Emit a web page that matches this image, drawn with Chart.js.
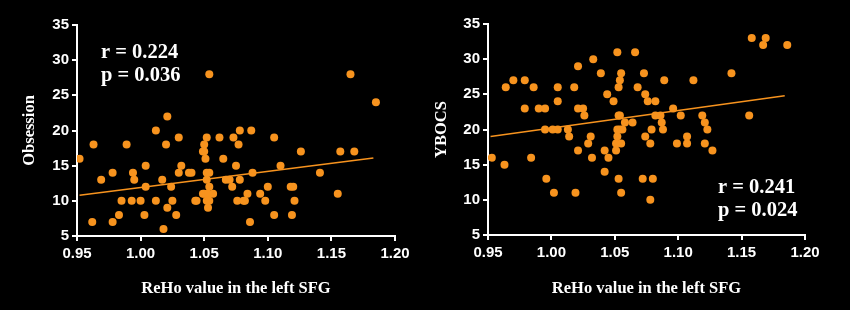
<!DOCTYPE html>
<html>
<head>
<meta charset="utf-8">
<script src="https://cdn.jsdelivr.net/npm/chart.js@4/dist/chart.umd.min.js"></script>
<style>
html,body{margin:0;padding:0;background:#000;width:850px;height:310px;overflow:hidden;}
.box{position:absolute;top:0;width:425px;height:310px;}
</style>
</head>
<body>
<div class="box" style="left:0"><canvas id="c1" width="425" height="310"></canvas></div>
<div class="box" style="left:425px"><canvas id="c2" width="425" height="310"></canvas></div>
<script>
// ---- Data ----
const xTicks = [0.95, 1.00, 1.05, 1.10, 1.15, 1.20];
const yTicks = [5, 10, 15, 20, 25, 30, 35];

const obsX = [0.952,0.962,0.963,0.969,0.978,0.978,0.983,0.985,0.989,0.993,0.994,0.995,1.000,1.003,1.004,1.004,1.012,1.012,1.017,1.018,1.020,1.021,1.021,1.024,1.025,1.028,1.030,1.030,1.032,1.038,1.040,1.043,1.044,1.050,1.049,1.050,1.051,1.052,1.052,1.052,1.054,1.049,1.050,1.052,1.053,1.054,1.053,1.054,1.057,1.054,1.062,1.065,1.067,1.070,1.072,1.073,1.075,1.076,1.077,1.078,1.078,1.081,1.082,1.084,1.086,1.087,1.088,1.094,1.098,1.100,1.105,1.105,1.110,1.118,1.120,1.119,1.121,1.126,1.141,1.155,1.157,1.165,1.168,1.185];
const obsY = [16,7,18,13,7,14,8,10,18,10,14,13,10,8,15,12,20,10,13,6,18,22,9,12,10,8,19,14,15,14,14,10,10,18,17,17,16,19,14,13,14,11,11,10,11,12,9,28,11,10,19,16,13,13,12,19,15,10,18,20,13,10,10,11,7,20,14,11,10,12,19,8,15,12,12,8,10,17,14,11,17,28,17,24];
const obsFitX = [0.952, 1.183];
const obsFitY = [10.8, 16.1];

const ybX = [0.953,0.963,0.964,0.970,0.979,0.979,0.984,0.986,0.990,0.995,0.995,0.996,1.001,1.002,1.005,1.005,1.005,1.013,1.014,1.018,1.019,1.021,1.021,1.021,1.025,1.026,1.029,1.031,1.032,1.033,1.039,1.042,1.042,1.044,1.045,1.049,1.051,1.051,1.052,1.053,1.053,1.052,1.052,1.053,1.054,1.055,1.054,1.054,1.055,1.055,1.056,1.058,1.064,1.066,1.068,1.072,1.073,1.074,1.074,1.076,1.078,1.078,1.079,1.080,1.082,1.082,1.086,1.087,1.088,1.089,1.096,1.099,1.102,1.107,1.107,1.112,1.119,1.121,1.121,1.123,1.127,1.142,1.156,1.158,1.167,1.169,1.186];
const ybY = [16,15,26,27,27,23,16,26,23,23,20,13,20,11,20,26,24,20,19,26,11,23,29,17,23,22,18,19,16,30,28,17,14,25,16,24,17,18,31,26,22,20,19,13,27,28,22,20,18,11,20,21,21,31,26,13,28,25,19,24,18,10,20,13,24,22,22,21,20,27,23,18,22,19,18,27,22,18,21,20,17,28,22,33,32,33,32];
const ybFitX = [0.952, 1.184];
const ybFitY = [19.0, 24.8];

const panels = [
  {id:'c1', xs:obsX, ys:obsY, fx:obsFitX, fy:obsFitY, yTitle:'Obsession', stats:['r = 0.224','p = 0.036'], pos:'top', left:77, right:30, top:25, bottom:236, yTitlePad:20},
  {id:'c2', xs:ybX, ys:ybY, fx:ybFitX, fy:ybFitY, yTitle:'YBOCS', stats:['r = 0.241','p = 0.024'], pos:'bottom', left:63, right:45, top:24, bottom:235, yTitlePad:7}
];

const ORANGE = '#F7931E';
const xTitle = 'ReHo value in the left SFG';

const statsPlugin = {
  id: 'stats',
  afterDatasetsDraw(chart, args, opts) {
    const ctx = chart.ctx, a = chart.chartArea;
    ctx.save();
    ctx.fillStyle = '#fff';
    ctx.font = 'bold 20.5px "Liberation Serif", "Times New Roman", serif';
    ctx.textBaseline = 'middle';
    ctx.textAlign = 'left';
    let x, y0;
    if (opts.pos === 'top') { x = a.left + 24; y0 = 53; }
    else { x = a.left + 230; y0 = 188; }
    ctx.fillText(opts.lines[0], x, y0);
    ctx.fillText(opts.lines[1], x, y0 + 23);
    ctx.restore();
  }
};

panels.forEach(p => {
  const pts = p.xs.map((x, i) => ({x: x, y: p.ys[i]}));
  const fit = p.fx.map((x, i) => ({x: x, y: p.fy[i]}));
  new Chart(document.getElementById(p.id), {
    type: 'scatter',
    data: {
      datasets: [
        {data: fit, showLine: true, borderColor: ORANGE, borderWidth: 1.6, pointRadius: 0, order: 0},
        {data: pts, backgroundColor: ORANGE, borderColor: ORANGE, borderWidth: 0, pointRadius: 4, order: 1}
      ]
    },
    options: {
      responsive: false,
      animation: false,
      events: [],
      layout: {padding: {left: 0, right: p.right, top: p.top, bottom: 0}},
      plugins: {legend: {display: false}, tooltip: {enabled: false}, stats: {pos: p.pos, lines: p.stats}},
      scales: {
        x: {
          type: 'linear', min: xTicks[0], max: xTicks[xTicks.length - 1],
          afterBuildTicks: s => { s.ticks = xTicks.map(v => ({value: v})); },
          afterFit: s => { s.height = 310 - p.bottom; },
          grid: {drawOnChartArea: false, drawTicks: true, tickLength: 5, color: '#fff', lineWidth: 2},
          border: {display: true, color: '#fff', width: 2},
          ticks: {color: '#fff', padding: 4, font: {family: '"Liberation Sans", Arial, sans-serif', size: 15, weight: 'bold'}, callback: v => Number(v).toFixed(2)},
          title: {display: true, text: xTitle, color: '#fff', padding: {top: 0, bottom: 11}, font: {family: '"Liberation Serif", "Times New Roman", serif', size: 16.5, weight: 'bold'}}
        },
        y: {
          type: 'linear', min: yTicks[0], max: yTicks[yTicks.length - 1],
          afterBuildTicks: s => { s.ticks = yTicks.map(v => ({value: v})); },
          afterFit: s => { s.width = p.left; },
          grid: {drawOnChartArea: false, drawTicks: true, tickLength: 5, color: '#fff', lineWidth: 2},
          border: {display: true, color: '#fff', width: 2},
          ticks: {color: '#fff', padding: 3, font: {family: '"Liberation Sans", Arial, sans-serif', size: 15, weight: 'bold'}},
          title: {display: true, text: p.yTitle, color: '#fff', padding: {top: p.yTitlePad, bottom: 0}, font: {family: '"Liberation Serif", "Times New Roman", serif', size: 16.5, weight: 'bold'}}
        }
      }
    },
    plugins: [statsPlugin]
  });
});
</script>
</body>
</html>
